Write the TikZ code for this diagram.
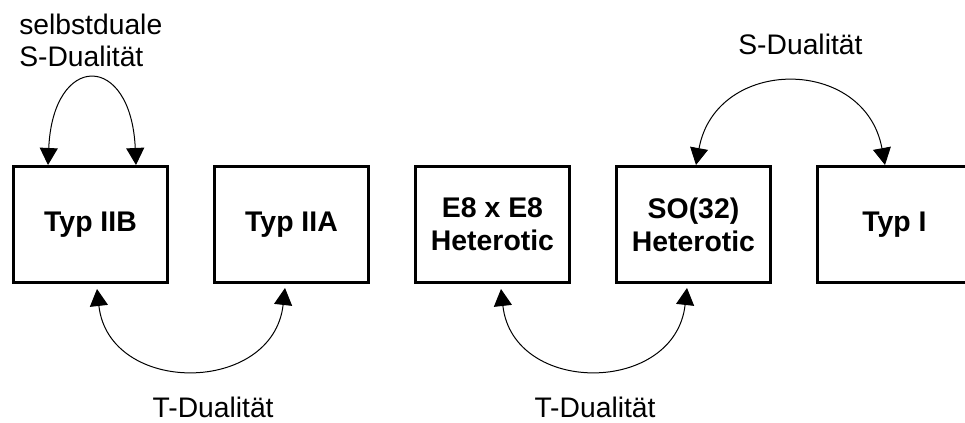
\documentclass[tikz,border=0pt]{standalone}
\usepackage{fontspec}
\setmainfont{Liberation Sans}
\usetikzlibrary{positioning,calc,arrows.meta}

\begin{document}
\begin{tikzpicture}[x=0.75pt,y=0.75pt,node distance=33pt,
		theory/.style={draw,line width=2.25pt,minimum width=115.5pt,minimum height=87pt,inner sep=0pt,align=center,font=\fontsize{21.3}{24.75}\selectfont\bfseries},
		lbl/.style={inner sep=0pt,font=\fontsize{21.2}{24}\selectfont},
		dual/.style={{Triangle[width=13.5pt,length=12.75pt]}-{Triangle[width=13.5pt,length=12.75pt]},line width=0.75pt}]
		\useasboundingbox (0,0) rectangle (965,423);
		\clip (0,0) rectangle (965,423);

		\node[theory] (iib) at (90.5,198.5) {Typ IIB};
		\node[theory, right=of {iib}] (iia) {Typ IIA};
		\node[theory, right=of {iia}] (e8) {E8 x E8\\Heterotic};
		\node[theory, right=of {e8}] (so32) {SO(32)\\Heterotic};
		\node[theory, right=of {so32}] (typi) {Typ I};

		\draw[dual] ($(iib.north)+(-42.5,0)$) .. controls +(5,113) and +(-5,113) .. ($(iib.north)+(45.5,0)$);
		\draw[dual] ($(iib.south)+(6.5,-5)$) .. controls +(12,-107) and +(-12,-107) .. ($(iia.south)+(-6.5,-4)$);
		\draw[dual] ($(e8.south)+(8.5,-5)$) .. controls +(12,-107) and +(-12,-107) .. ($(so32.south)+(-6.5,-4)$);
		\draw[dual] ($(so32.north)+(2.5,0)$) .. controls +(20,109) and +(-20,109) .. ($(typi.north)+(-9.5,0)$);

		\node[lbl, align=left, anchor=south west] (sslbl) at ($(iib.north west)+(7,98)$) {selbstduale\\S-Dualität};
		\node[lbl, anchor=base] (slbl) at ($(so32.north)!0.532!(typi.north)+(0,110)$) {S-Dualität};
		\node[lbl, anchor=base] (tlbl1) at ($(iib.south)!0.61!(iia.south)+(0,-134)$) {T-Dualität};
		\node[lbl, anchor=base] (tlbl2) at ($(e8.south)!0.51!(so32.south)+(0,-134)$) {T-Dualität};
	\end{tikzpicture}
\end{document}
